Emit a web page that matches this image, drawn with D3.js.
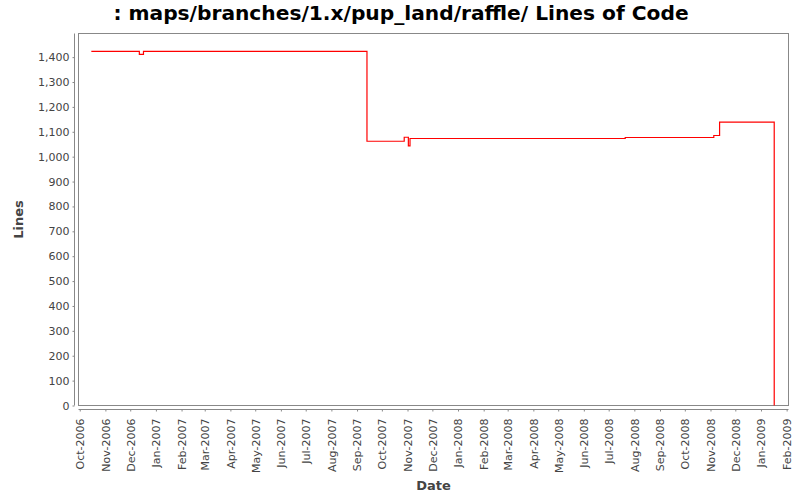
<!DOCTYPE html>
<html>
<head>
<meta charset="utf-8">
<script src="https://cdn.jsdelivr.net/npm/d3@7"></script>
<style>
  body { margin: 0; background: #fff; }
  text { font-family: "DejaVu Sans", sans-serif; }
  .tick text { fill: #444; font-size: 11px; }
  .tick line { stroke: #888; }
  .domain { stroke: #888; }
</style>
</head>
<body>
<svg id="chart"></svg>
<script>
const dates = ["2006-10-15","2006-12-12","2006-12-17","2007-09-13","2007-10-28","2007-11-02",
               "2007-11-04","2008-07-21","2008-11-05","2008-11-12","2009-01-17"];
const lines = [1423, 1411, 1423, 1062, 1078, 1043, 1073, 1077, 1085, 1139, 0];
const yTicks = [0,100,200,300,400,500,600,700,800,900,1000,1100,1200,1300,1400];

const w = 800;
const h = 500;
const pLeft = 78.5, pRight = 788.5, pTop = 33.5, pBottom = 405.5;

const parse = d3.timeParse("%Y-%m-%d");
const data = dates.map((d,i) => ({date: parse(d), value: lines[i]}));

const svg = d3.select("#chart")
              .attr("width", w)
              .attr("height", h);

const x = d3.scaleTime()
            .domain([new Date(2006, 8, 29, 12), new Date(2009, 1, 3, 6)])
            .range([pLeft, pRight]);

const y = d3.scaleLinear()
            .domain([0, 1495])
            .range([pBottom, pTop]);

// plot frame
svg.append("rect")
   .attr("x", pLeft)
   .attr("y", pTop)
   .attr("width", pRight - pLeft)
   .attr("height", pBottom - pTop)
   .attr("fill", "white")
   .attr("stroke", "#888")
   .style("stroke-width", "1px");

// y axis
svg.append("g")
   .attr("transform", "translate(" + (pLeft - 4) + ",0)")
   .call(d3.axisLeft(y)
           .tickValues(yTicks)
           .tickSize(2)
           .tickPadding(3)
           .tickFormat(d3.format(",")))
   .call(g => g.selectAll(".domain").attr("d", "M0," + pTop + "V" + pBottom));

// x axis
const months = d3.timeMonth.range(new Date(2006, 9, 1), new Date(2009, 1, 2));
const xAxis = svg.append("g")
   .attr("transform", "translate(0," + (pBottom + 4) + ")")
   .call(d3.axisBottom(x)
           .tickValues(months)
           .tickSize(2)
           .tickFormat(d3.timeFormat("%b-%Y")))
   .call(g => g.selectAll(".domain").attr("d", "M" + pLeft + ",0H" + pRight));

xAxis.selectAll(".tick text")
     .attr("transform", "rotate(-90)")
     .attr("text-anchor", "end")
     .attr("x", -9)
     .attr("y", 0)
     .attr("dy", "0.35em");

// step line
svg.append("path")
   .datum(data)
   .attr("fill", "none")
   .attr("stroke", "red")
   .style("stroke-width", "1.2px")
   .attr("d", d3.line()
                .curve(d3.curveStepAfter)
                .x(d => x(d.date))
                .y(d => y(d.value)));

svg.append("text")
   .attr("x", 401)
   .attr("y", 20)
   .attr("text-anchor", "middle")
   .style("font-size", "20.2px")
   .style("font-weight", "bold")
   .text(": maps/branches/1.x/pup_land/raffle/ Lines of Code");

svg.append("text")
   .attr("transform", "translate(23," + ((pTop + pBottom) / 2) + ") rotate(-90)")
   .attr("text-anchor", "middle")
   .style("font-size", "13px")
   .style("font-weight", "bold")
   .attr("fill", "#444")
   .text("Lines");

svg.append("text")
   .attr("x", (pLeft + pRight) / 2)
   .attr("y", 490)
   .attr("text-anchor", "middle")
   .style("font-size", "13px")
   .style("font-weight", "bold")
   .attr("fill", "#444")
   .text("Date");
</script>
</body>
</html>
